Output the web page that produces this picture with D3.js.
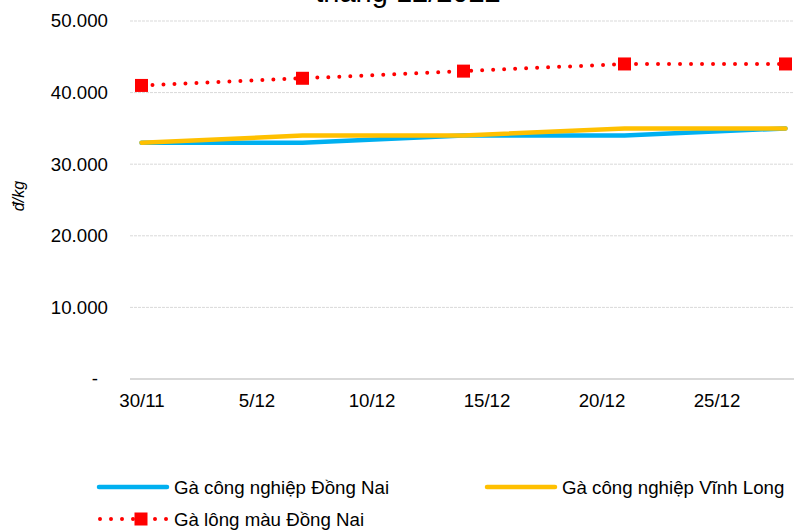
<!DOCTYPE html>
<html>
<head>
<meta charset="utf-8">
<script src="https://cdn.jsdelivr.net/npm/d3@7"></script>
<style>
  body { margin: 0; background: #fff; }
  svg { font-family: "Liberation Sans", Arial, sans-serif; }
</style>
</head>
<body>
<svg id="chart" width="794" height="530"></svg>
<script>
// weekly dates (day, month) in 2022
var dates = ["2022-11-30", "2022-12-07", "2022-12-14", "2022-12-21", "2022-12-28"];
var dongNaiCN = [33000, 33000, 34000, 34000, 35000];
var vinhLongCN = [33000, 34000, 34000, 35000, 35000];
var dongNaiLongMau = [41000, 42000, 43000, 44000, 44000];
var yTicks = [0, 10000, 20000, 30000, 40000, 50000];
var xTickDates = ["2022-11-30", "2022-12-05", "2022-12-10", "2022-12-15", "2022-12-20", "2022-12-25"];
var seriesNames = ["Gà công nghiệp Đồng Nai", "Gà công nghiệp Vĩnh Long", "Gà lông màu Đồng Nai"];

var parse = d3.utcParse("%Y-%m-%d");
var svg = d3.select("#chart");

var plotLeft = 130, plotRight = 797, plotTop = 21, plotBottom = 379;
var fontSize = "18.7px";

var xScale = d3.scaleUtc()
    .domain([d3.utcHour.offset(parse(dates[0]), -12), d3.utcHour.offset(parse(dates[dates.length - 1]), 12)])
    .range([plotLeft, plotRight]);
var yScale = d3.scaleLinear().domain([0, 50000]).range([plotBottom, plotTop]);

var vn = d3.formatLocale({ decimal: ",", thousands: ".", grouping: [3], currency: ["", ""] });
var fmt = vn.format(",");

// title (top line is cut off in the original)
svg.append("text")
    .attr("x", 408)
    .attr("y", 2)
    .attr("text-anchor", "middle")
    .attr("font-size", "29px")
    .attr("fill", "#000")
    .text("tháng 12/2022");

// grid lines
svg.append("g")
    .selectAll("line")
    .data(yTicks.filter(function (d) { return d > 0; }))
    .enter().append("line")
    .attr("x1", plotLeft).attr("x2", 794)
    .attr("y1", function (d) { return yScale(d); })
    .attr("y2", function (d) { return yScale(d); })
    .attr("stroke", "#d9d9d9")
    .attr("stroke-width", 1)
    .attr("stroke-dasharray", "3 1");

// y axis labels
var yAxis = svg.append("g")
    .attr("transform", "translate(" + plotLeft + ",0)")
    .call(d3.axisLeft(yScale).tickValues(yTicks).tickSize(0).tickPadding(22)
        .tickFormat(function (d) { return d === 0 ? "-" : fmt(d); }));
yAxis.select(".domain").remove();
yAxis.selectAll("text")
    .attr("font-size", fontSize)
    .attr("font-family", "Liberation Sans, Arial, sans-serif")
    .attr("fill", "#000")
    .attr("x", function (d) { return d === 0 ? -32 : -22; });

// x axis
var xAxis = svg.append("g")
    .attr("transform", "translate(0," + plotBottom + ")")
    .call(d3.axisBottom(xScale).tickValues(xTickDates.map(parse)).tickSize(0).tickPadding(15)
        .tickFormat(function (d) { return d.getUTCDate() + "/" + (d.getUTCMonth() + 1); }));
xAxis.select(".domain").attr("stroke", "#d9d9d9").attr("stroke-width", 2)
    .attr("d", "M" + plotLeft + ",0H794");
xAxis.selectAll("text")
    .attr("font-size", fontSize)
    .attr("font-family", "Liberation Sans, Arial, sans-serif")
    .attr("fill", "#000");

// y axis title
svg.append("text")
    .attr("transform", "translate(24,196) rotate(-90)")
    .attr("text-anchor", "middle")
    .attr("font-size", "16px")
    .attr("font-style", "italic")
    .text("đ/kg");

var line = d3.line()
    .x(function (d) { return xScale(d.date); })
    .y(function (d) { return yScale(d.value); });

function toPoints(values) {
    return values.map(function (v, i) { return { date: parse(dates[i]), value: v }; });
}

svg.append("path")
    .datum(toPoints(dongNaiCN))
    .attr("d", line)
    .attr("fill", "none")
    .attr("stroke", "#00b0f0")
    .attr("stroke-width", 4.5)
    .attr("stroke-linecap", "round")
    .attr("stroke-linejoin", "round");

svg.append("path")
    .datum(toPoints(vinhLongCN))
    .attr("d", line)
    .attr("fill", "none")
    .attr("stroke", "#ffc000")
    .attr("stroke-width", 4.5)
    .attr("stroke-linecap", "round")
    .attr("stroke-linejoin", "round");

svg.append("path")
    .datum(toPoints(dongNaiLongMau))
    .attr("d", line)
    .attr("fill", "none")
    .attr("stroke", "#ff0000")
    .attr("stroke-width", 4)
    .attr("stroke-linecap", "round")
    .attr("stroke-dasharray", "0 11");

svg.selectAll(".marker")
    .data(toPoints(dongNaiLongMau))
    .enter().append("rect")
    .attr("class", "marker")
    .attr("x", function (d) { return xScale(d.date) - 6.5; })
    .attr("y", function (d) { return yScale(d.value) - 6.5; })
    .attr("width", 13)
    .attr("height", 13)
    .attr("fill", "#ff0000");

// legend
var legend = svg.append("g");
var legendItems = [
    { name: seriesNames[0], x: 97, y: 487, color: "#00b0f0", dotted: false },
    { name: seriesNames[1], x: 485, y: 487, color: "#ffc000", dotted: false },
    { name: seriesNames[2], x: 97, y: 519, color: "#ff0000", dotted: true }
];
legendItems.forEach(function (it) {
    var l = legend.append("line")
        .attr("x1", it.x + 2).attr("x2", it.x + 70)
        .attr("y1", it.y).attr("y2", it.y)
        .attr("stroke", it.color)
        .attr("stroke-linecap", "round");
    if (it.dotted) {
        l.attr("x1", it.x + 3).attr("stroke-width", 4).attr("stroke-dasharray", "0 11");
        legend.append("rect")
            .attr("x", it.x + 44 - 6.5).attr("y", it.y - 6.5)
            .attr("width", 13).attr("height", 13)
            .attr("fill", it.color);
    } else {
        l.attr("stroke-width", 4.5);
    }
    legend.append("text")
        .attr("x", it.x + 77)
        .attr("y", it.y + 6.5)
        .attr("font-size", fontSize)
        .attr("fill", "#000")
        .text(it.name);
});
</script>
</body>
</html>
